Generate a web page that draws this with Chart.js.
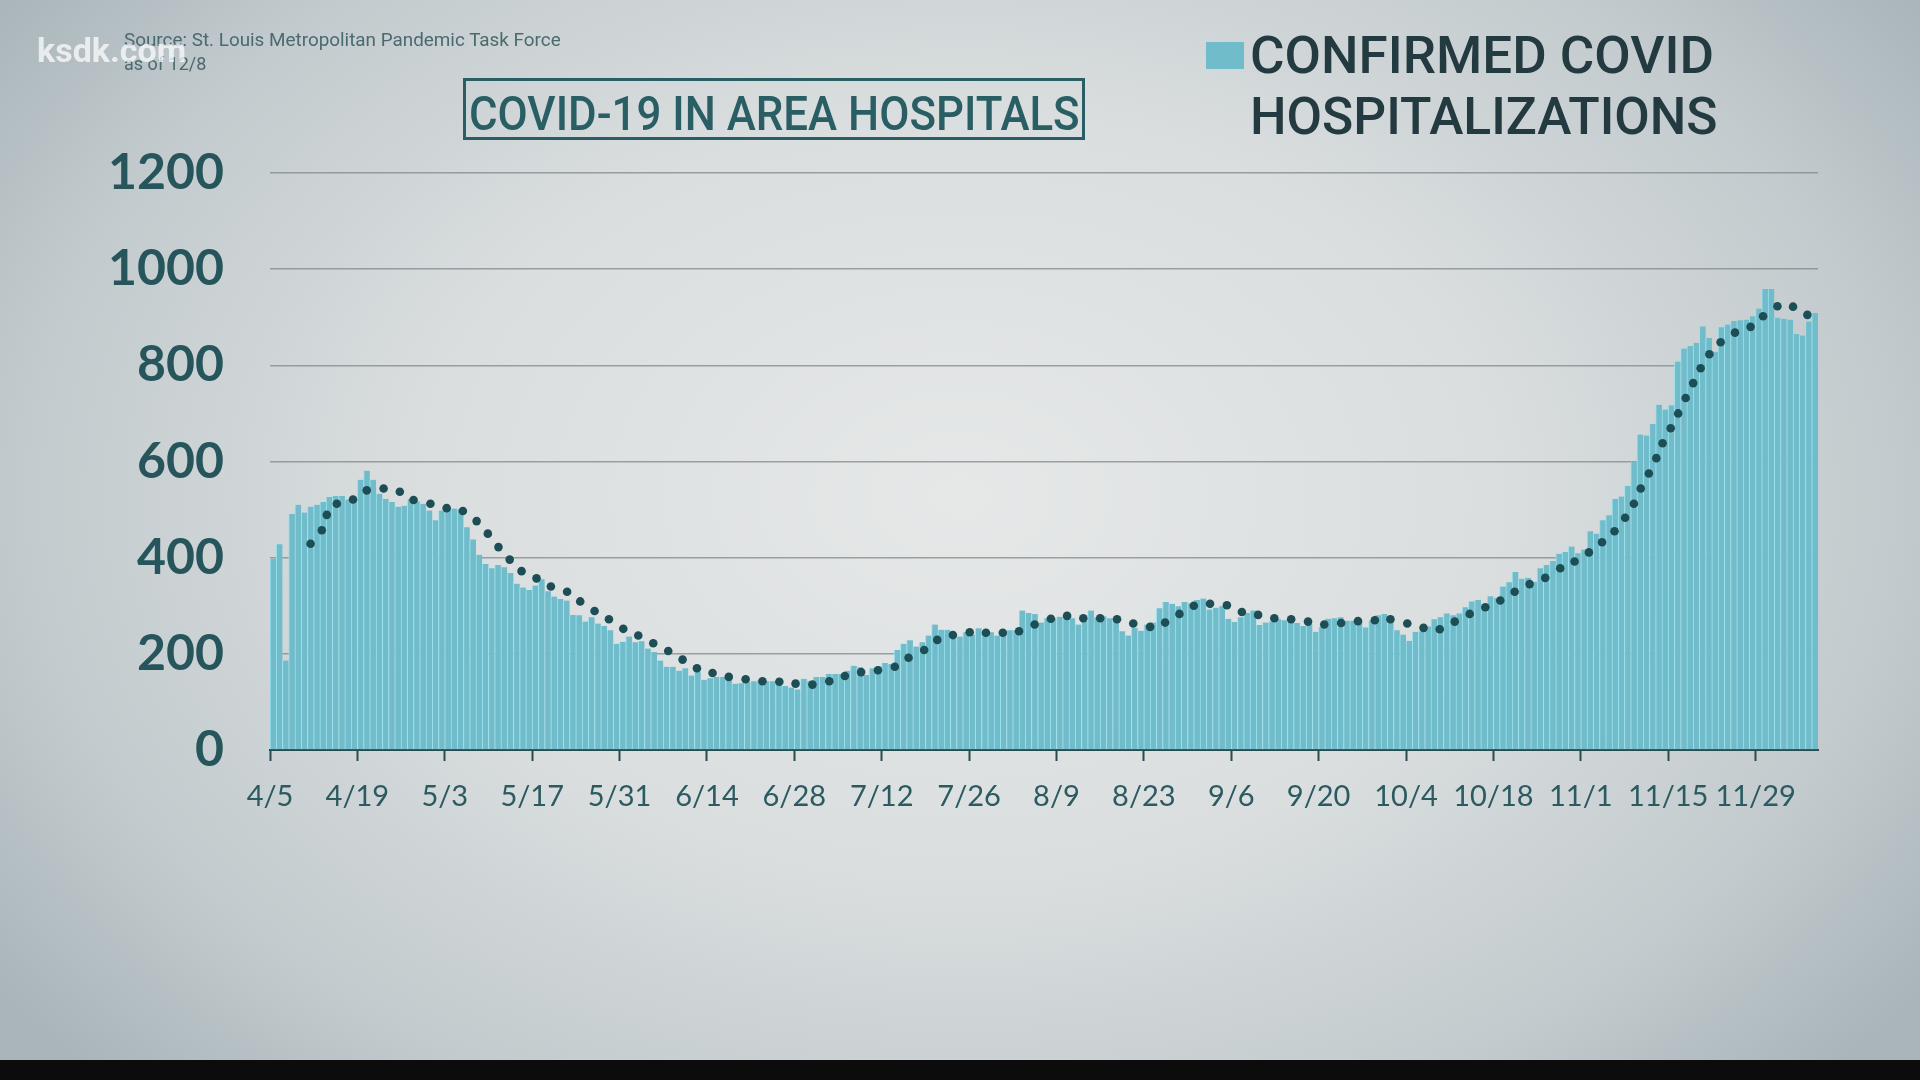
<!DOCTYPE html>
<html>
<head>
<meta charset="utf-8">
<title>COVID-19 in Area Hospitals</title>
<script src="https://cdn.jsdelivr.net/npm/chart.js@4.4.1/dist/chart.umd.min.js"></script>
<style>
  html, body { margin: 0; padding: 0; }
  body {
    width: 1920px; height: 1080px; overflow: hidden; position: relative;
    font-family: Roboto, "Noto Sans", sans-serif;
    background: radial-gradient(ellipse 62% 78% at 50% 46%, #e6e8e8 0%, #dadedf 45%, #c3cbce 78%, #a9b5ba 100%);
  }
  #chart { position: absolute; left: 0; top: 0; }
  .fit { position: absolute; white-space: nowrap; transform-origin: left top; line-height: 1; }
  #brand { position: absolute; left: 37px; top: 33px; font: 700 34px Roboto, sans-serif; line-height: 1;
           color: rgba(255,255,255,0.72); }
  #source { left: 124px; top: 31px; font-size: 18px; color: #4b6a70; }
  #asof { left: 124px; top: 55px; font-size: 18px; color: #4b6a70; }
  #titleBox { position: absolute; left: 463px; top: 78px; width: 616px; height: 56px;
              border: 3px solid #2a5e65; }
  #titleText { left: 469px; top: 89px; font-size: 49px; font-weight: 500; color: #2a5e65; }
  #swatch { position: absolute; left: 1206px; top: 42px; width: 38px; height: 27px; background: #70bccb; }
  #legend1 { left: 1250px; top: 30px; font-size: 52px; font-weight: 500; color: #233b40; }
  #legend2 { left: 1250px; top: 91px; font-size: 52px; font-weight: 500; color: #233b40; }
  #bottomBar { position: absolute; left: 0; top: 1060px; width: 1920px; height: 20px; background: #0c0c0c; }
</style>
</head>
<body>
<canvas id="chart" width="1920" height="1080"></canvas>
<div id="source" class="fit">Source: St. Louis Metropolitan Pandemic Task Force</div>
<div id="asof" class="fit">as of 12/8</div>
<div id="brand">ksdk.com</div>
<div id="titleBox"></div>
<div id="titleText" class="fit">COVID-19 IN AREA HOSPITALS</div>
<div id="swatch"></div>
<div id="legend1" class="fit">CONFIRMED COVID</div>
<div id="legend2" class="fit">HOSPITALIZATIONS</div>
<div id="bottomBar"></div>
<script>
// tick labels, one every 14 days starting 4/5
const tickLabels = ['4/5', '4/19', '5/3', '5/17', '5/31', '6/14', '6/28', '7/12', '7/26',
                    '8/9', '8/23', '9/6', '9/20', '10/4', '10/18', '11/1', '11/15', '11/29'];
const dayCount = 248; // 4/5 .. 12/8

// confirmed covid hospitalizations, one value per day (two weeks per row)
const hospitalizations = [
  397, 428, 186, 491, 510, 494, 506, 510, 516, 526, 528, 528, 521, 522,
  562, 581, 562, 533, 522, 516, 506, 508, 522, 517, 512, 498, 478, 498,
  502, 502, 500, 463, 438, 406, 387, 378, 385, 380, 368, 346, 338, 333,
  342, 355, 330, 319, 314, 311, 281, 280, 267, 276, 263, 258, 249, 221,
  225, 236, 224, 226, 211, 204, 186, 173, 173, 165, 170, 155, 163, 146,
  149, 152, 152, 147, 138, 139, 141, 143, 145, 143, 143, 140, 133, 130,
  126, 148, 144, 152, 152, 158, 158, 158, 165, 175, 172, 156, 170, 174,
  181, 179, 208, 221, 228, 215, 224, 238, 261, 250, 250, 241, 236, 245,
  240, 253, 248, 245, 238, 248, 249, 249, 290, 285, 283, 265, 274, 274,
  277, 280, 274, 261, 269, 290, 276, 278, 274, 272, 247, 238, 254, 248,
  261, 265, 295, 308, 304, 299, 308, 305, 312, 315, 292, 296, 299, 273,
  266, 276, 285, 290, 260, 265, 267, 272, 270, 271, 264, 258, 262, 246,
  256, 273, 274, 276, 269, 269, 264, 255, 269, 280, 283, 279, 249, 240,
  227, 246, 247, 257, 272, 276, 284, 280, 284, 297, 309, 312, 298, 320,
  316, 340, 349, 370, 356, 358, 350, 378, 385, 393, 408, 412, 423, 409,
  417, 455, 450, 478, 488, 522, 527, 549, 600, 656, 654, 678, 718, 708,
  717, 808, 835, 840, 847, 881, 857, 828, 879, 885, 892, 894, 895, 902,
  918, 959, 959, 899, 897, 895, 865, 862, 891, 909
];

// dotted trend (rolling average): day position and value
const trendDay = [
  6.5, 8.3, 9.1, 10.7, 13.3, 15.5, 18.2, 20.8, 23.0, 25.7, 28.3, 30.9, 33.1, 34.9,
  36.6, 38.4, 40.3, 42.7, 45.0, 47.6, 49.7, 52.0, 54.3, 56.6, 59.0, 61.4, 63.8, 66.1,
  68.4, 70.9, 73.5, 76.2, 78.9, 81.6, 84.2, 86.9, 89.6, 92.1, 94.7, 97.4, 100.1, 102.3,
  104.8, 106.9, 109.4, 112.1, 114.7, 117.4, 120.0, 122.5, 125.1, 127.7, 130.3, 133.0, 135.7, 138.3,
  141.0, 143.4, 145.7, 148.0, 150.6, 153.3, 155.7, 158.3, 160.9, 163.6, 166.3, 168.9, 171.6, 174.3,
  177.0, 179.5, 182.2, 184.8, 187.4, 189.8, 192.2, 194.7, 197.1, 199.4, 201.8, 204.3, 206.7, 209.0,
  211.3, 213.4, 215.4, 217.1, 218.5, 219.6, 220.9, 222.1, 223.1, 224.4, 225.6, 226.8, 228.0, 229.2,
  230.6, 232.4, 234.7, 237.2, 239.2, 241.5, 244.0, 246.3
];
const trendValue = [
  429, 457, 489, 512, 521, 540, 544, 537, 520, 512, 503, 497, 476, 450,
  422, 396, 372, 357, 340, 329, 309, 289, 272, 252, 238, 222, 206, 188,
  170, 160, 152, 147, 143, 142, 138, 136, 143, 154, 162, 166, 173, 192,
  208, 229, 239, 245, 244, 244, 247, 261, 273, 279, 274, 274, 272, 263,
  256, 265, 283, 300, 304, 301, 287, 281, 274, 272, 267, 261, 264, 268,
  270, 272, 263, 254, 251, 267, 283, 297, 311, 329, 345, 358, 378, 392,
  411, 432, 455, 483, 512, 544, 575, 607, 638, 669, 700, 732, 763, 794,
  823, 848, 868, 880, 902, 923, 922, 905
];

const barPoints = hospitalizations.map((v, i) => ({ x: i + 0.5, y: v }));
const trendPoints = trendDay.map((d, i) => ({ x: d, y: trendValue[i] }));

const ctx = document.getElementById('chart').getContext('2d');
new Chart(ctx, {
  type: 'bar',
  data: {
    datasets: [
      {
        type: 'line',
        label: 'Average',
        data: trendPoints,
        showLine: false,
        pointRadius: 4.3,
        pointBackgroundColor: '#1d4e55',
        pointBorderWidth: 0,
        order: 0
      },
      {
        label: 'Confirmed COVID hospitalizations',
        data: barPoints,
        backgroundColor: '#70bccb',
        borderColor: '#9ce2ee',
        borderWidth: { left: 1, right: 0, top: 0, bottom: 0 },
        borderSkipped: false,
        barPercentage: 1,
        categoryPercentage: 1,
        order: 1
      }
    ]
  },
  options: {
    responsive: false,
    animation: false,
    layout: { padding: { left: 0, right: 102, top: 173, bottom: 250 } },
    plugins: {
      legend: { display: false },
      tooltip: { enabled: false }
    },
    scales: {
      x: {
        type: 'linear',
        min: 0,
        max: dayCount,
        offset: false,
        grid: { offset: false, drawOnChartArea: false, drawTicks: true, tickLength: 11, tickColor: '#2c4b51', tickWidth: 2 },
        border: { display: true, color: '#2c4b51', width: 2 },
        ticks: {
          stepSize: 14,
          includeBounds: false,
          autoSkip: false,
          maxRotation: 0,
          padding: 18,
          color: '#2b5a61',
          font: { family: 'Lato', size: 29, weight: '400' },
          callback: (v) => tickLabels[v / 14] ?? ''
        },
        afterFit: (s) => { s.height = 80; }
      },
      y: {
        min: 0,
        max: 1200,
        ticks: {
          stepSize: 200,
          padding: 46,
          color: '#27555c',
          font: { family: 'Lato', size: 50, weight: '700' },
          callback: (v) => String(v)
        },
        grid: { color: 'rgba(128,136,140,0.75)', lineWidth: 1.5, drawTicks: false },
        border: { display: false },
        afterFit: (s) => { s.width = 270; }
      }
    }
  }
});

// squeeze the overlay texts to the widths they have in the picture
function fitWidth(id, target) {
  const el = document.getElementById(id);
  el.style.transform = 'scaleX(' + (target / el.offsetWidth) + ')';
}
fitWidth('source', 437);
fitWidth('titleText', 611);
fitWidth('legend1', 464);
fitWidth('legend2', 468);
</script>
</body>
</html>
